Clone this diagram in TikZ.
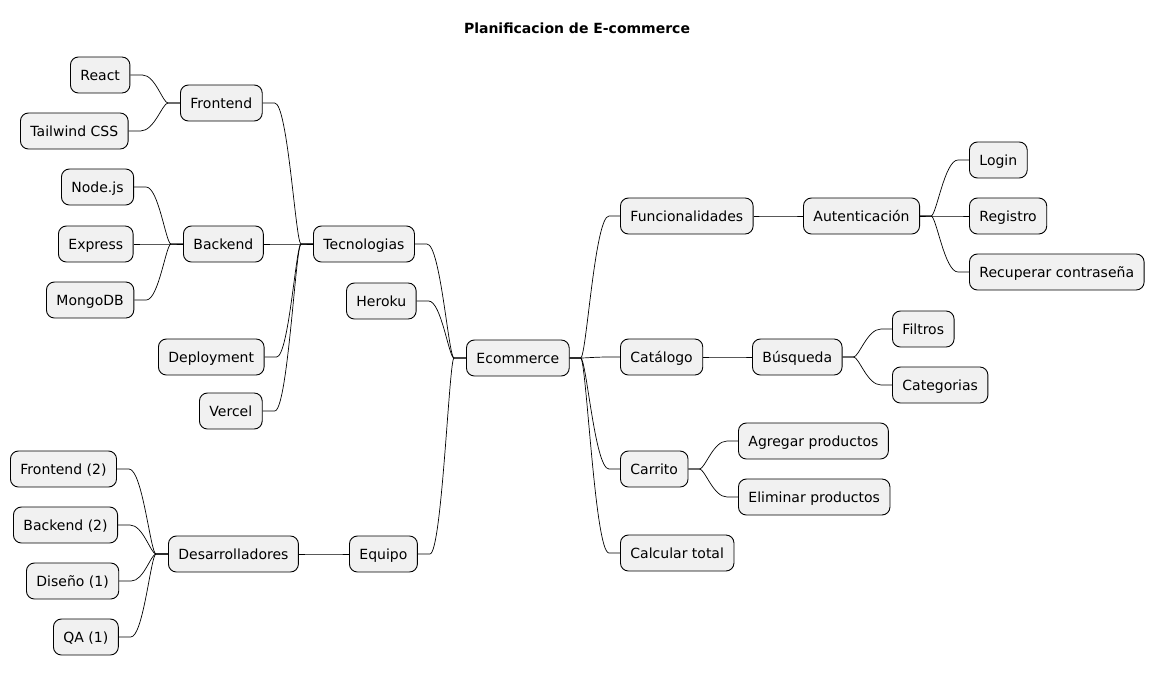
\documentclass[tikz,border=0pt]{standalone}
\usepackage{fontspec}
\setmainfont{DejaVu Sans}
\usetikzlibrary{calc}
\definecolor{boxgray}{HTML}{F1F1F1}
% curved links of the mind map
\newcommand\linkr[2]{\draw[link] let \p1=(#1.east), \p2=(#2.west) in (\p1) -- ({\x1+11pt},\y1) .. controls ({\x1+11pt+0.2*(\x2-\x1-22pt)},\y1) and ({\x1+11pt+0.5*(\x2-\x1-22pt)},\y2) .. ({\x2-11pt},\y2) -- (\p2) ;}
\newcommand\linkl[2]{\draw[link] let \p1=(#1.west), \p2=(#2.east) in (\p1) -- ({\x1-12pt},\y1) .. controls ({\x1-12pt-0.2*(\x1-\x2-24pt)},\y1) and ({\x1-12pt-0.5*(\x1-\x2-24pt)},\y2) .. ({\x2+12pt},\y2) -- (\p2) ;}
\begin{document}
\begin{tikzpicture}[x=1pt,y=-1pt,
    idea/.style={draw, line width=0.9pt, fill=boxgray, rounded corners=8pt, minimum height=36pt, inner xsep=10pt, text height=12pt, text depth=2pt, anchor=west, font=\fontsize{14}{16}\selectfont},
    link/.style={line width=0.7pt}]
      \useasboundingbox (0,0) rectangle (1155,677) ;
      \node[font=\bfseries\fontsize{14}{16}\selectfont] (title) at (577,28) {Planificacion de E-commerce} ;
      % root
      \node[idea] (root) at (466,358) {Ecommerce} ;
      % left side
      \node[idea] (tec) at (313,244) {Tecnologias} ;
      \node[idea] (her) at (346,301) {Heroku} ;
      \node[idea] (equ) at (349,554) {Equipo} ;
      \node[idea] (fro) at (180,103) {Frontend} ;
      \node[idea] (rea) at (70,75) {React} ;
      \node[idea] (tai) at (20,131) {Tailwind CSS} ;
      \node[idea] (bac) at (183,244) {Backend} ;
      \node[idea] (nod) at (61,187) {Node.js} ;
      \node[idea] (exp) at (58,244) {Express} ;
      \node[idea] (mon) at (46,300) {MongoDB} ;
      \node[idea] (dep) at (158,357) {Deployment} ;
      \node[idea] (ver) at (199,411) {Vercel} ;
      \node[idea] (des) at (168,554) {Desarrolladores} ;
      \node[idea] (df) at (10,469) {Frontend (2)} ;
      \node[idea] (db) at (13,525) {Backend (2)} ;
      \node[idea] (dd) at (26,581) {Diseño (1)} ;
      \node[idea] (dq) at (53,637) {QA (1)} ;
      % right side
      \node[idea] (fun) at (620,216) {Funcionalidades} ;
      \node[idea] (aut) at (803,216) {Autenticación} ;
      \node[idea] (log) at (969,160) {Login} ;
      \node[idea] (reg) at (969,216) {Registro} ;
      \node[idea] (rec) at (969,272) {Recuperar contraseña} ;
      \node[idea] (cat) at (620,357) {Catálogo} ;
      \node[idea] (bus) at (752,357) {Búsqueda} ;
      \node[idea] (fil) at (892,329) {Filtros} ;
      \node[idea] (ctg) at (892,385) {Categorias} ;
      \node[idea] (car) at (620,469) {Carrito} ;
      \node[idea] (agr) at (738,441) {Agregar productos} ;
      \node[idea] (eli) at (738,497) {Eliminar productos} ;
      \node[idea] (cal) at (620,553) {Calcular total} ;
      % links
      \foreach \a/\b in {root/fun, root/cat, root/car, root/cal, fun/aut, aut/log, aut/reg, aut/rec, cat/bus, bus/fil, bus/ctg, car/agr, car/eli}
        {\linkr{\a}{\b}}
      \foreach \a/\b in {root/tec, root/her, root/equ, tec/fro, tec/bac, tec/dep, tec/ver, fro/rea, fro/tai, bac/nod, bac/exp, bac/mon, equ/des, des/df, des/db, des/dd, des/dq}
        {\linkl{\a}{\b}}
\end{tikzpicture}
\end{document}
